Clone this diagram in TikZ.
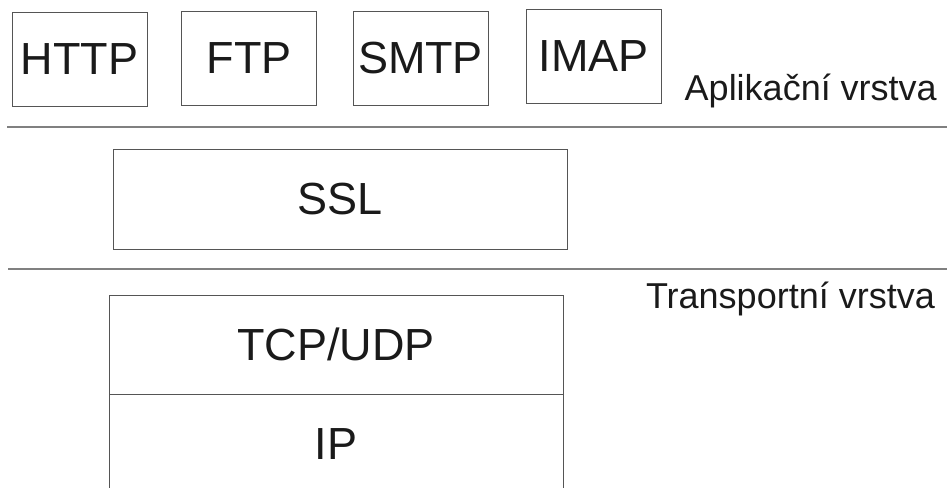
\documentclass[tikz,border=0pt]{standalone}
\usepackage{fontspec}
\setmainfont{Liberation Sans}
\usepackage{tikz}
\usetikzlibrary{positioning}

\definecolor{boxgray}{HTML}{555555}
\definecolor{linegray}{HTML}{808080}
\definecolor{textblack}{HTML}{1A1A1A}

\begin{document}
\begin{tikzpicture}[x=1pt, y=-1pt,
		proto/.style={rectangle, draw=boxgray, line width=1pt, inner sep=0pt, outer sep=0pt,
			minimum width=135pt, minimum height=93pt, text=textblack, font=\fontsize{45}{50}\selectfont},
		layer/.style={proto, minimum width=454pt, minimum height=100pt},
		vrstva/.style={anchor=base east, inner sep=0pt, text=textblack, font=\fontsize{36}{40}\selectfont},
		sep/.style={draw=linegray, line width=2pt}]
	\useasboundingbox (0,0) rectangle (947,487);

		\draw
		(79.5, 59.5) node [proto] (HTTP) {HTTP}
		(249, 58.5) node [proto] (FTP) {FTP}
		(420.5, 58.5) node [proto] (SMTP) {SMTP}
		(593.5, 56.5) node [proto, minimum height=93pt] (IMAP) {IMAP}
		(937, 100) node [vrstva] (aplikacni) {Aplikační vrstva};

		\coordinate (sepA1) at (7, 127);
		\coordinate (sepA2) at (947, 127);
		\draw[sep] (sepA1) -- (sepA2);

		\draw
		(340, 199) node [layer] (SSL) {SSL};

		\coordinate (sepB1) at (8, 269);
		\coordinate (sepB2) at (947, 269);
		\draw[sep] (sepB1) -- (sepB2);

		\draw
		(336, 344.5) node [layer, minimum height=99pt] (TCP) {TCP/UDP}
		(935, 308) node [vrstva] (transportni) {Transportní vrstva};
		\node [layer, below=0pt of TCP] (IP) {IP};
	\end{tikzpicture}
\end{document}
